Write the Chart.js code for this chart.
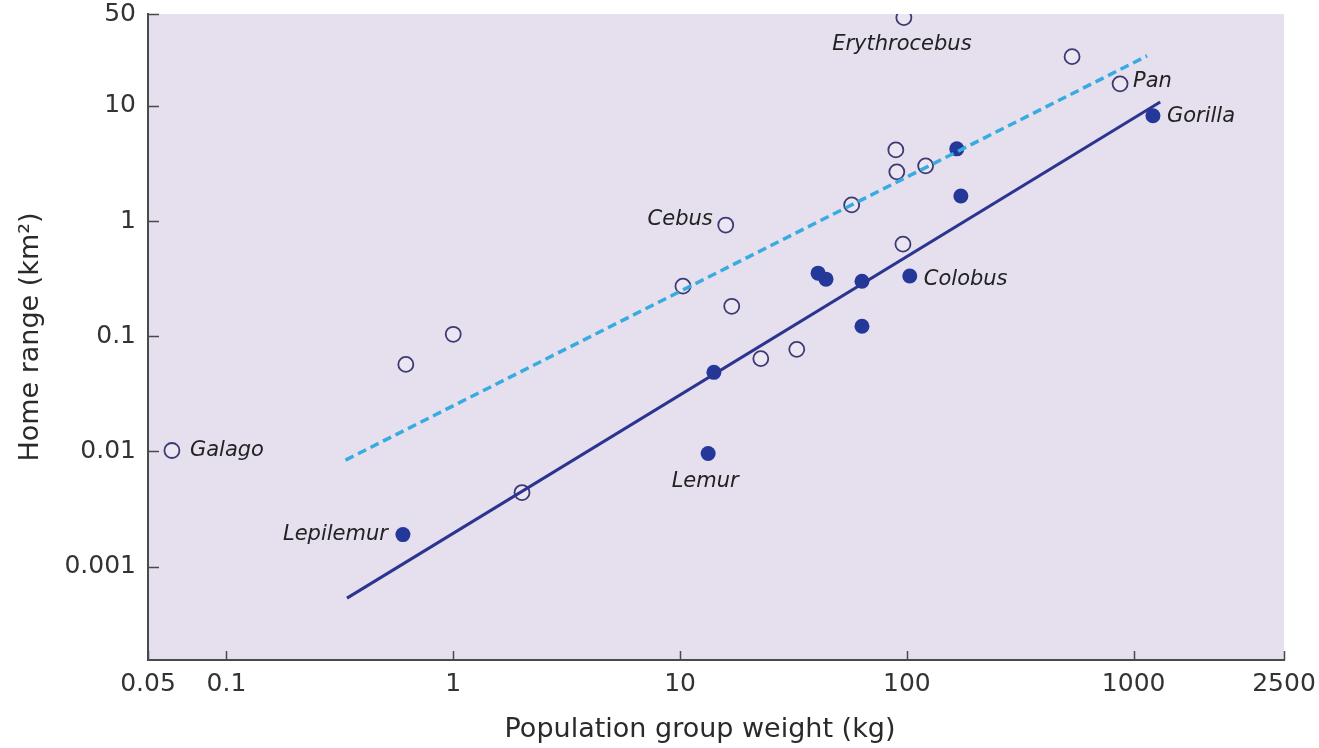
<!DOCTYPE html>
<html>
<head>
<meta charset="utf-8">
<script src="https://cdn.jsdelivr.net/npm/chart.js@4.4.1/dist/chart.umd.min.js"></script>
<style>
  html, body { margin: 0; padding: 0; background: #fff; }
  canvas { display: block; }
</style>
</head>
<body>
<canvas id="rangeChart" width="1319" height="748"></canvas>
<script>
// group weight (kg) against home range (km2)
const openX = [0.0575, 0.618, 1.0, 2.01, 10.3, 15.9, 16.9, 22.7, 32.7, 57.1, 89.4, 90.3, 121, 96.1, 97, 535, 871];
const openY = [0.0102, 0.057, 0.104, 0.0044, 0.272, 0.923, 0.182, 0.064, 0.077, 1.38, 4.14, 2.67, 3.01, 0.63, 58.2, 26.7, 15.5];
const openNames = ["Galago", "", "", "", "", "Cebus", "", "", "", "", "", "", "", "", "Erythrocebus", "", "Pan"];

const filledX = [0.60, 13.3, 14.1, 40.6, 44.0, 63.4, 63.4, 103, 166, 173, 1216];
const filledY = [0.0019, 0.0096, 0.0486, 0.353, 0.313, 0.30, 0.122, 0.333, 4.23, 1.65, 8.19];
const filledNames = ["Lepilemur", "Lemur", "", "", "", "", "", "Colobus", "", "", "Gorilla"];

// fitted lines (end points)
const dashedLineX = [0.335, 1146];
const dashedLineY = [0.00842, 27.1];
const solidLineX = [0.340, 1309];
const solidLineY = [0.000534, 10.8];

// axis ends and ticks as printed on the figure
const xMin = 0.0451, xMax = 4600;
const yMin = 0.000155, yMax = 62.6;
const xTickValues = [xMin, 0.1, 1, 10, 100, 1000, xMax];
const xTickLabels = ["0.05", "0.1", "1", "10", "100", "1000", "2500"];
const yTickValues = [0.001, 0.01, 0.1, 1, 10, yMax];
const yTickLabels = ["0.001", "0.01", "0.1", "1", "10", "50"];
const xTitle = "Population group weight (kg)";
const yTitle = "Home range (km²)";

const labelPlacement = {
  Galago: { dx: 18, dy: 0, align: "left" },
  Cebus: { dx: -13, dy: -5, align: "right" },
  Erythrocebus: { dx: -2, dy: 27, align: "center" },
  Pan: { dx: 13, dy: -2, align: "left" },
  Lepilemur: { dx: -15, dy: 0, align: "right" },
  Lemur: { dx: -3, dy: 28, align: "center" },
  Colobus: { dx: 14, dy: 4, align: "left" },
  Gorilla: { dx: 14, dy: 1, align: "left" }
};

const toPoints = (xs, ys) => xs.map((x, i) => ({ x: x, y: ys[i] }));

const plotDecor = {
  id: "plotDecor",
  beforeDraw(chart) {
    const { ctx, chartArea } = chart;
    ctx.save();
    ctx.fillStyle = "#e6dfee";
    ctx.fillRect(chartArea.left, chartArea.top, chartArea.right - chartArea.left, chartArea.bottom - chartArea.top);
    ctx.restore();
  },
  afterDraw(chart) {
    // tick marks point into the plot
    const { ctx, chartArea } = chart;
    const xs = chart.scales.x, ys = chart.scales.y;
    ctx.save();
    ctx.strokeStyle = "#4a4a4a";
    ctx.lineWidth = 1.5;
    ctx.beginPath();
    xTickValues.forEach(v => {
      const px = Math.round(xs.getPixelForValue(v)) + 0.5;
      ctx.moveTo(px, chartArea.bottom);
      ctx.lineTo(px, chartArea.bottom - 9);
    });
    yTickValues.forEach(v => {
      const py = Math.round(ys.getPixelForValue(v)) + 0.5;
      ctx.moveTo(chartArea.left, py);
      ctx.lineTo(chartArea.left + 11, py);
    });
    ctx.stroke();

    // x title sits a little left of the plot centre in the original
    ctx.font = "27px 'DejaVu Sans'";
    ctx.fillStyle = "#2a2a2a";
    ctx.textAlign = "center";
    ctx.textBaseline = "middle";
    ctx.fillText(xTitle, 700, 730);
    ctx.restore();
  },
  afterDatasetsDraw(chart) {
    const { ctx } = chart;
    ctx.save();
    ctx.font = "oblique 21px 'DejaVu Sans'";
    ctx.fillStyle = "#222";
    ctx.textBaseline = "middle";
    [[2, openNames], [3, filledNames]].forEach(([idx, names]) => {
      const meta = chart.getDatasetMeta(idx);
      names.forEach((name, i) => {
        if (!name) return;
        const p = labelPlacement[name];
        const el = meta.data[i];
        ctx.textAlign = p.align;
        ctx.fillText(name, el.x + p.dx, el.y + p.dy);
      });
    });
    ctx.restore();
  }
};

const tickFont = { family: "'DejaVu Sans'", size: 25 };
const titleFont = { family: "'DejaVu Sans'", size: 27 };

new Chart(document.getElementById("rangeChart"), {
  type: "scatter",
  data: {
    datasets: [
      {
        type: "line",
        data: toPoints(dashedLineX, dashedLineY),
        borderColor: "#38ace0",
        borderWidth: 3.5,
        borderDash: [9, 5],
        pointRadius: 0,
        fill: false
      },
      {
        type: "line",
        data: toPoints(solidLineX, solidLineY),
        borderColor: "#2b3590",
        borderWidth: 3,
        pointRadius: 0,
        fill: false
      },
      {
        data: toPoints(openX, openY),
        pointRadius: 7.5,
        pointBorderWidth: 1.8,
        borderColor: "#3c3a72",
        backgroundColor: "#ece6f3"
      },
      {
        data: toPoints(filledX, filledY),
        pointRadius: 7.5,
        pointBorderWidth: 0,
        borderColor: "#24389a",
        backgroundColor: "#24389a"
      }
    ]
  },
  options: {
    responsive: false,
    animation: false,
    layout: { padding: { top: 14, right: 35, left: 0, bottom: 0 } },
    plugins: {
      legend: { display: false },
      tooltip: { enabled: false }
    },
    scales: {
      x: {
        type: "logarithmic",
        min: xMin,
        max: xMax,
        afterBuildTicks: scale => { scale.ticks = xTickValues.map(v => ({ value: v })); },
        afterFit: scale => {
          scale.height = 88;
          scale.paddingLeft = 0;
          scale.paddingRight = 0;
        },
        grid: { display: false, drawTicks: false },
        border: { display: true, color: "#4a4a4a", width: 2 },
        ticks: {
          autoSkip: false,
          maxRotation: 0,
          padding: 9,
          color: "#333",
          font: tickFont,
          callback: (value, index) => xTickLabels[index]
        },
        title: { display: false }
      },
      y: {
        type: "logarithmic",
        min: yMin,
        max: yMax,
        afterBuildTicks: scale => { scale.ticks = yTickValues.map(v => ({ value: v })); },
        afterFit: scale => {
          scale.width = 148;
          scale.paddingTop = 0;
          scale.paddingBottom = 0;
        },
        grid: { display: false, drawTicks: false },
        border: { display: true, color: "#4a4a4a", width: 2 },
        ticks: {
          autoSkip: false,
          padding: 12,
          color: "#333",
          font: tickFont,
          callback: (value, index) => yTickLabels[index]
        },
        title: {
          display: true,
          text: yTitle,
          color: "#2a2a2a",
          font: titleFont,
          padding: { top: 15, bottom: 0 }
        }
      }
    }
  },
  plugins: [plotDecor]
});
</script>
</body>
</html>
